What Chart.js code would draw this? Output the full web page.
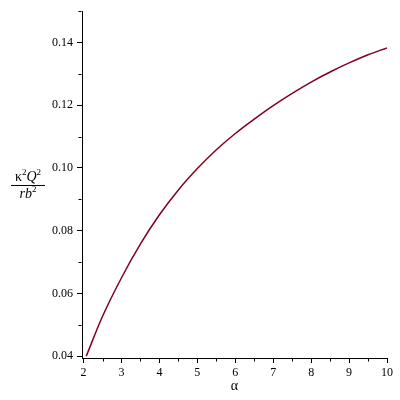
<!DOCTYPE html>
<html><head><meta charset="utf-8">
<script src="https://cdn.jsdelivr.net/npm/chart.js@4/dist/chart.umd.min.js"></script>
<style>
html,body{margin:0;padding:0;background:#fff;}
#wrap{position:relative;width:400px;height:400px;}
#ylab{position:absolute;left:11px;top:169px;width:34px;font-family:'Liberation Serif','Times New Roman',serif;font-size:14px;text-align:center;color:#000;line-height:15px;}
#ylab .num{border-bottom:1px solid #000;padding-bottom:1px;}
#ylab sup{font-size:9px;vertical-align:6px;line-height:0;}
</style></head><body>
<div id="wrap"><canvas id="c" width="400" height="400"></canvas>
<div id="ylab"><div class="num">κ<sup>2</sup><i>Q</i><sup>2</sup></div><div class="den"><i>rb</i><sup>2</sup></div></div></div>
<script>
const alphaValues = [2.07, 2.5, 3, 3.5, 4, 4.5, 5, 5.5, 6, 6.5, 7, 7.5, 8, 8.5, 9, 9.5, 10];
const ratioValues = [0.0400, 0.0527, 0.0650, 0.0758, 0.0851, 0.0930, 0.0998, 0.1058, 0.1110, 0.1156, 0.1199, 0.1238, 0.1274, 0.1306, 0.1335, 0.1361, 0.1383];
const xTickValues = [2, 3, 4, 5, 6, 7, 8, 9, 10];
const xMinorTicks = [2.5, 3.5, 4.5, 5.5, 6.5, 7.5, 8.5, 9.5];
const yTickValues = [0.04, 0.06, 0.08, 0.10, 0.12, 0.14];
const yMinorTicks = [0.05, 0.07, 0.09, 0.11, 0.13, 0.15];
const xRange = [1.958, 10];
const yRange = [0.0394, 0.15];
const xTitle = 'α';

const serif = '"Liberation Serif", "Times New Roman", serif';
const tickFont = {family: serif, size: 12};

const minorTicksPlugin = {
  id: 'minorTicks',
  afterDraw(chart) {
    const ctx = chart.ctx;
    const xs = chart.scales.x, ys = chart.scales.y;
    ctx.save();
    ctx.strokeStyle = '#000';
    ctx.lineWidth = 1;
    ctx.beginPath();
    xMinorTicks.forEach(v => {
      const px = Math.round(xs.getPixelForValue(v)) + 0.5;
      const y0 = Math.round(xs.top) + 0.5;
      ctx.moveTo(px, y0); ctx.lineTo(px, y0 + 3);
    });
    yMinorTicks.forEach(v => {
      const py = Math.round(ys.getPixelForValue(v)) + 0.5;
      const x0 = Math.round(ys.right) - 0.5;
      ctx.moveTo(x0, py); ctx.lineTo(x0 - 3, py);
    });
    ctx.stroke();
    ctx.restore();
  }
};

function draw() {
  new Chart(document.getElementById('c'), {
    type: 'line',
    data: {
      datasets: [{
        data: alphaValues.map((x, i) => ({x: x, y: ratioValues[i]})),
        borderColor: 'rgb(128,0,32)',
        borderWidth: 1.5,
        pointRadius: 0,
        cubicInterpolationMode: 'monotone',
        fill: false
      }]
    },
    options: {
      responsive: false,
      animation: false,
      events: [],
      layout: {padding: {left: 0, right: 13, top: 8, bottom: 0}},
      plugins: {legend: {display: false}, tooltip: {enabled: false}},
      scales: {
        x: {
          type: 'linear',
          min: xRange[0], max: xRange[1],
          afterBuildTicks: s => { s.ticks = xTickValues.map(v => ({value: v})); },
          afterFit: s => { s.height = 42; },
          grid: {drawOnChartArea: false, tickLength: 5, color: '#000', tickColor: '#000'},
          border: {color: '#000', width: 1},
          ticks: {color: '#000', font: tickFont, padding: 3, maxRotation: 0, autoSkip: false,
                  callback: v => String(v)},
          title: {display: true, text: xTitle, color: '#000',
                  font: {family: serif, size: 14},
                  padding: {top: 0, bottom: 5}}
        },
        y: {
          type: 'linear',
          min: yRange[0], max: yRange[1],
          afterBuildTicks: s => { s.ticks = yTickValues.map(v => ({value: v})); },
          afterFit: s => { s.width = 82; },
          grid: {drawOnChartArea: false, tickLength: 5, color: '#000', tickColor: '#000'},
          border: {color: '#000', width: 1},
          ticks: {color: '#000', font: tickFont, padding: 4, autoSkip: false,
                  callback: v => Number(v).toFixed(2)}
        }
      }
    },
    plugins: [minorTicksPlugin]
  });
}
if (document.fonts && document.fonts.load) {
  document.fonts.load('12px "Liberation Serif"').then(draw, draw);
} else { draw(); }
</script>
</body></html>
